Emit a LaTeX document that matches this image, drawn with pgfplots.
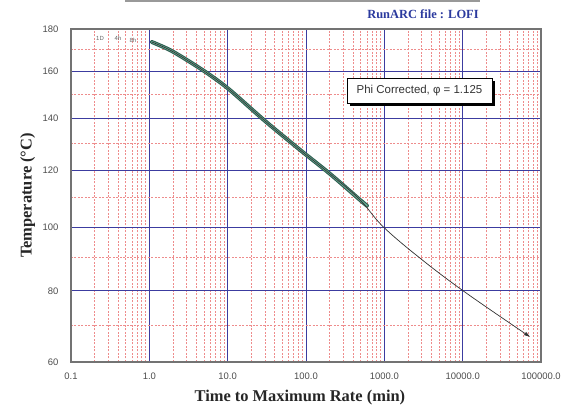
\documentclass[border=0pt]{standalone}
\usepackage{fontspec}
\setmainfont{Liberation Sans}
\newfontfamily\serifb{Liberation Serif}
\usepackage{pgfplots}
\pgfplotsset{compat=1.18}
\usepackage{pgfplotstable}
\usetikzlibrary{shadows,arrows.meta}
\definecolor{majgrid}{HTML}{3C3CA0}
\definecolor{mingrid}{HTML}{EE8C8C}
\definecolor{bandd}{HTML}{2E5E50}
\definecolor{bandl}{HTML}{6AAE96}
\definecolor{ttl}{HTML}{2B3A9E}
\pgfplotstableread{
t T
1.08 173.7
1.84 169.9
3.31 164.4
5.95 158.5
10.7 151.9
30.0 139.0
83.9 127.6
202.6 118.6
489 109.3
600 107.3
}\banddata
\pgfplotstableread{
t T
1.08 173.7
1.84 169.9
3.31 164.4
5.95 158.5
10.7 151.9
30.0 139.0
83.9 127.6
202.6 118.6
489 109.3
962 100.2
2855 90.0
10720 79.6
72400 66.8
}\fitdata
\begin{document}
\begin{tikzpicture}
\begin{axis}[
  scale only axis, width=470bp, height=333bp,
  xmode=log, xmin=0.1, xmax=100000,
  ymin=-3.00165, ymax=-2.20677,
  xtick={0.1,1,10,100,1000,10000,100000},
  xticklabels={0.1,1.0,10.0,100.0,1000.0,10000.0,100000.0},
  ytick={-2.20677,-2.30867,-2.42043,-2.54355,-2.67989,-2.83166,-3.00165},
  yticklabels={180,160,140,120,100,80,60},
  minor ytick={-2.25657,-2.36295,-2.48047,-2.60961,-2.75292,-2.91333},
  minor xtick={0.2,0.3,0.4,0.5,0.6,0.7,0.8,0.9,2,3,4,5,6,7,8,9,20,30,40,50,60,70,80,90,200,300,400,500,600,700,800,900,2000,3000,4000,5000,6000,7000,8000,9000,20000,30000,40000,50000,60000,70000,80000,90000},
  grid=both,
  major grid style={majgrid, line width=0.9bp},
  minor grid style={mingrid, dash pattern=on 2bp off 1.5bp, line width=0.75bp},
  major tick length=0pt, minor tick length=0pt,
  axis line style={draw=black!55, line width=1.5bp},
  ticklabel style={font=\fontsize{9.5}{11}\selectfont, text=black!70},
  yticklabel style={xshift=-9bp},
  xticklabel style={yshift=-7bp},
  /pgf/number format/assume math mode=true,
  xlabel={Time to Maximum Rate (min)},
  ylabel={Temperature (°C)},
  label style={font=\serifb\bfseries\fontsize{16.5}{19}\selectfont, text=black!85},
  xlabel style={at={(axis description cs:0.487,-0.108)}, anchor=center},
  ylabel style={at={(axis description cs:-0.092,0.5)}, anchor=center},
]
\addplot[bandd, line width=4bp, line cap=round, smooth, tension=0.5] table[x=t, y expr=-1000/(\thisrow{T}+273.15)] {\banddata};
\addplot[bandl, line width=1.8bp, line cap=round, smooth, tension=0.5] table[x=t, y expr=-1000/(\thisrow{T}+273.15)] {\banddata};
\addplot[black!80, line width=0.7bp, smooth, tension=0.6, -{Triangle[length=6bp,width=3.5bp]}] table[x=t, y expr=-1000/(\thisrow{T}+273.15)] {\fitdata};
\coordinate (LL) at (rel axis cs:0,0);
\end{axis}
\node[draw=black, fill=white, line width=0.8bp, drop shadow={shadow xshift=3bp, shadow yshift=-3bp, fill=black, opacity=1}, minimum width=145bp, minimum height=25bp, inner sep=2bp, font=\fontsize{11.5}{13}\selectfont, text=black!80] at ([shift={(348.5bp,271.5bp)}]LL) {Phi Corrected, φ = 1.125};
\node[font=\fontsize{6}{7}\selectfont, text=black!60] at ([shift={(29bp,324bp)}]LL) {1D};
\node[font=\fontsize{6}{7}\selectfont, text=black!60] at ([shift={(47bp,324bp)}]LL) {4h};
\node[font=\fontsize{6}{7}\selectfont, text=black!60] at ([shift={(62bp,322bp)}]LL) {8h};
\node[font=\serifb\bfseries\fontsize{12.5}{14}\selectfont, text=ttl] at ([shift={(352bp,348bp)}]LL) {RunARC file : LOFI};
\draw[black!40, line width=1.5bp] ([shift={(54bp,361bp)}]LL) -- ([shift={(409bp,361bp)}]LL);
\pgfresetboundingbox
\path ([shift={(-71bp,-52bp)}]LL) rectangle ([shift={(495bp,362bp)}]LL);
\end{tikzpicture}
\end{document}
